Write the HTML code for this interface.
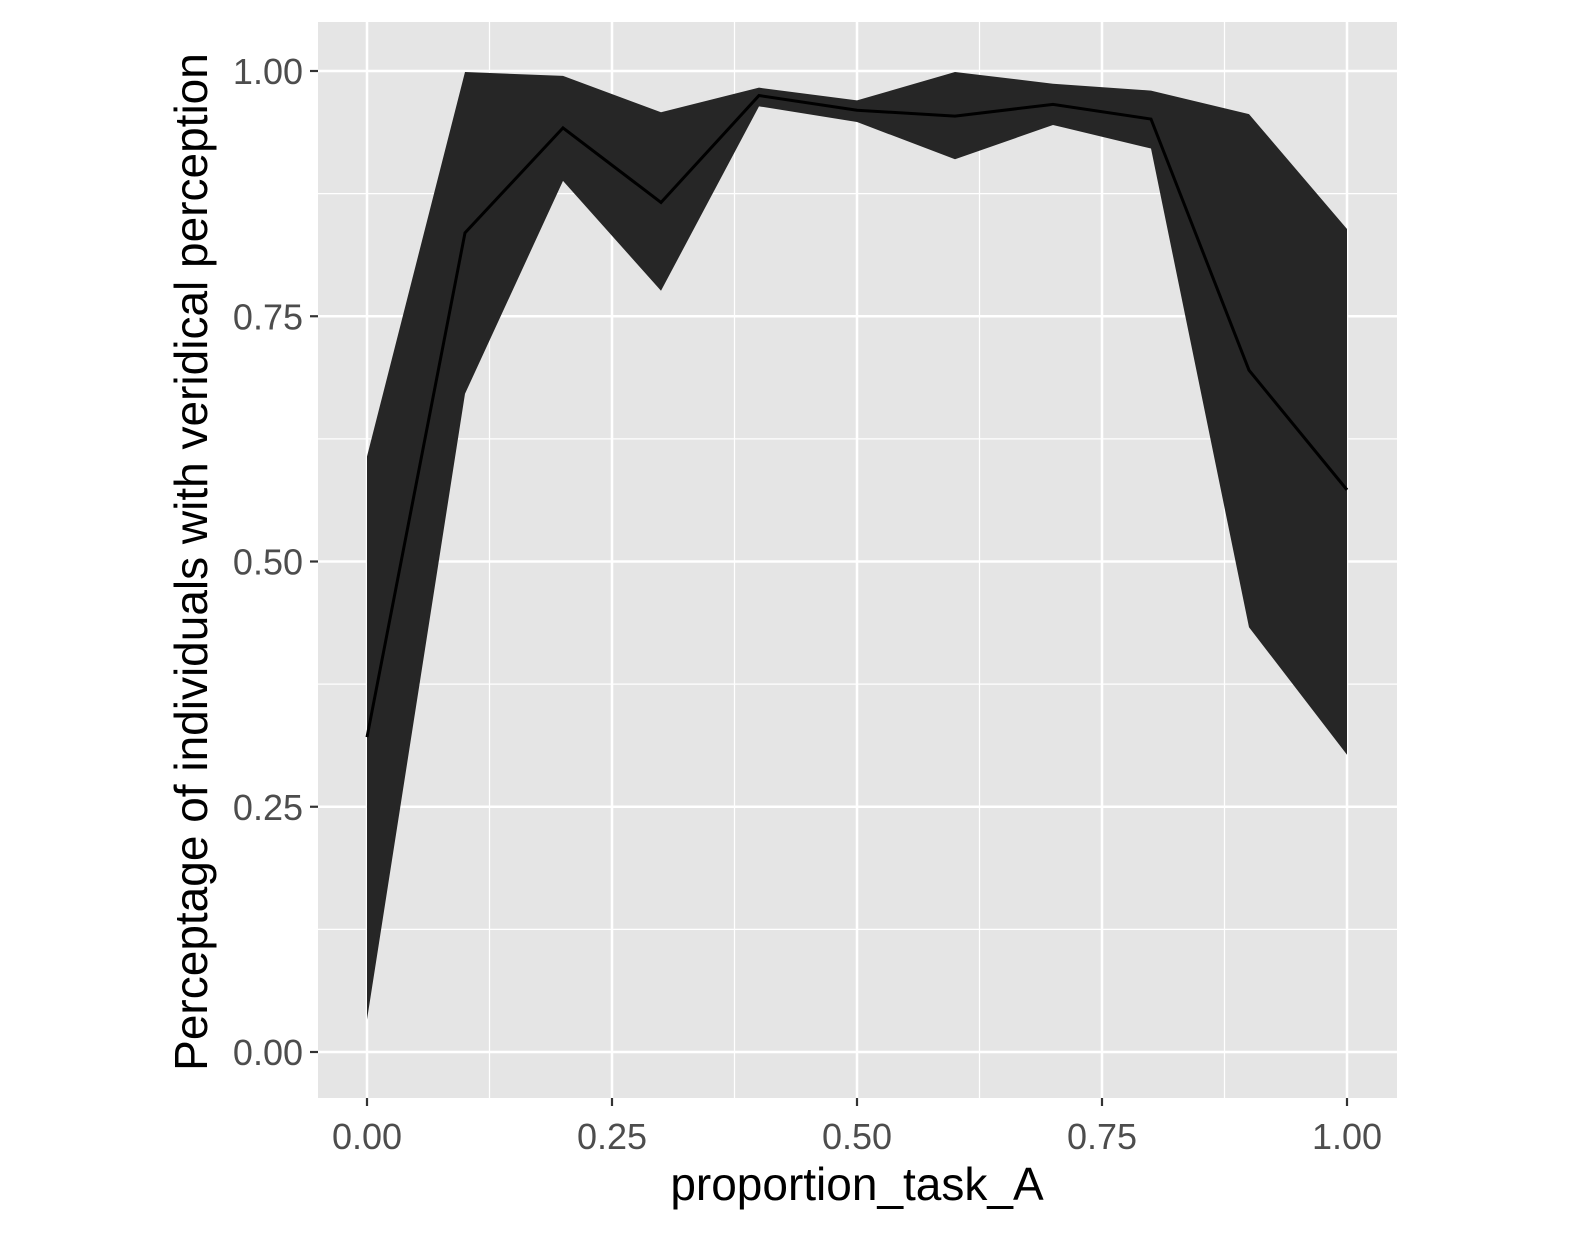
<!DOCTYPE html>
<html><head><meta charset="utf-8"><style>
html,body{margin:0;padding:0;background:#fff;}
svg text{font-family:"Liberation Sans",Arial,sans-serif;}
</style></head><body>
<svg id="chart" width="1574" height="1237" xmlns="http://www.w3.org/2000/svg"></svg>
<script>
const xs=[0,0.1,0.2,0.3,0.4,0.5,0.6,0.7,0.8,0.9,1.0];
const meanVals=[0.321,0.835,0.942,0.866,0.975,0.960,0.954,0.966,0.951,0.695,0.573];
const upperVals=[0.607,0.999,0.995,0.958,0.983,0.970,0.999,0.987,0.980,0.956,0.839];
const lowerVals=[0.033,0.671,0.888,0.776,0.964,0.948,0.910,0.945,0.921,0.433,0.303];
const xTicks=[0,0.25,0.5,0.75,1];
const xTickLabels=["0.00","0.25","0.50","0.75","1.00"];
const yTicks=[0,0.25,0.5,0.75,1];
const yTickLabels=["0.00","0.25","0.50","0.75","1.00"];

const svg=document.getElementById('chart');
const NS='http://www.w3.org/2000/svg';
const PL=318,PR=1397,PT=22,PB=1098;
const X=v=>367+v*980, Y=v=>1052-v*981;
function mk(t,a,p){const e=document.createElementNS(NS,t);for(const k in a)e.setAttribute(k,a[k]);(p||svg).appendChild(e);return e;}

const panel=mk('rect',{x:PL,y:PT,width:PR-PL,height:PB-PT,fill:'#e5e5e5'});


const grid=mk('g',{});


for(let i=0;i<xTicks.length-1;i++){const m=(xTicks[i]+xTicks[i+1])/2;mk('line',{x1:X(m),x2:X(m),y1:PT,y2:PB,stroke:'#fff','stroke-width':1.2},grid);}
for(let i=0;i<yTicks.length-1;i++){const m=(yTicks[i]+yTicks[i+1])/2;mk('line',{y1:Y(m),y2:Y(m),x1:PL,x2:PR,stroke:'#fff','stroke-width':1.2},grid);}
xTicks.forEach(v=>mk('line',{x1:X(v),x2:X(v),y1:PT,y2:PB,stroke:'#fff','stroke-width':2.5},grid));
yTicks.forEach(v=>mk('line',{y1:Y(v),y2:Y(v),x1:PL,x2:PR,stroke:'#fff','stroke-width':2.5},grid));

let d=xs.map((x,i)=>(i?'L':'M')+X(x)+','+Y(upperVals[i])).join('');
for(let i=xs.length-1;i>=0;i--)d+='L'+X(xs[i])+','+Y(lowerVals[i]);
const band=mk('path',{d:d+'Z',fill:'#262626'});


const line=mk('path',{d:xs.map((x,i)=>(i?'L':'M')+X(x)+','+Y(meanVals[i])).join(''),fill:'none',stroke:'#000','stroke-width':3});



xTicks.forEach((v,i)=>{
  mk('line',{x1:X(v),x2:X(v),y1:PB,y2:PB+8,stroke:'#333','stroke-width':2.2});
  const t=mk('text',{x:X(v),y:1149,'text-anchor':'middle','font-size':36,fill:'#4d4d4d'});
  t.textContent=xTickLabels[i];
  
  
});
yTicks.forEach((v,i)=>{
  mk('line',{x1:PL-8,x2:PL,y1:Y(v),y2:Y(v),stroke:'#333','stroke-width':2.2});
  const t=mk('text',{x:303,y:Y(v)+13,'text-anchor':'end','font-size':36,fill:'#4d4d4d'});
  t.textContent=yTickLabels[i];
  
  
});
const xt=mk('text',{x:857,y:1200,'text-anchor':'middle','font-size':46,fill:'#000'});
xt.textContent='proportion_task_A';


const yt=mk('text',{x:0,y:0,transform:'translate(207,562) rotate(-90)','text-anchor':'middle','font-size':46,fill:'#000'});
yt.textContent='Perceptage of individuals with veridical perception';


</script>
</body></html>
